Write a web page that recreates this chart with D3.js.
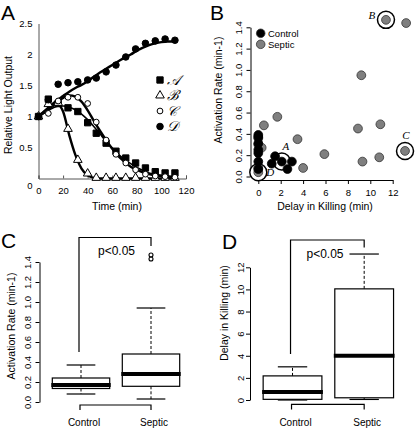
<!DOCTYPE html>
<html><head><meta charset="utf-8">
<script src="https://cdn.jsdelivr.net/npm/d3@7"></script>
<style>
html,body{margin:0;padding:0;background:#fff;}
svg{display:block;font-family:"Liberation Sans",Arial,sans-serif;}
</style></head>
<body><svg id="c" width="415" height="428"></svg>
<script>
// ---------- Panel A data ----------
const timeA   = [0,8,16,24,32,40,47,55,63,71,79,87,95,103,111];
const seriesA = [1.0,1.28,1.21,1.14,1.08,0.90,0.73,0.57,0.44,0.33,0.25,0.17,0.11,0.09,0.09];
const seriesB = [1.0,1.20,1.22,0.80,0.30,0.08,0.01,0.01,0.01,0.01,0.01,0.01,0.01,0.01,0.01];
const seriesC = [1.0,1.05,1.25,1.31,1.31,1.21,0.91,0.62,0.39,0.25,0.14,0.07,0.04,0.03,0.02];
const seriesD = [1.0,1.27,1.52,1.545,1.56,1.59,1.62,1.72,1.83,1.96,2.09,2.18,2.22,2.25,2.23];
const fitTime = [0,5,10,15,20,25,30,35,40,45,50,55,60,65,70,75,80,85,90,95,100,105,110];
const fitA = [1.0,1.06,1.12,1.16,1.17,1.15,1.11,1.04,0.95,0.84,0.72,0.60,0.49,0.39,0.31,0.24,0.18,0.13,0.09,0.07,0.05,0.04,0.03];
const fitB = [1.0,1.08,1.15,1.20,1.08,0.70,0.38,0.16,0.05,0.01,0,0,0,0,0,0,0,0,0,0,0,0,0];
const fitC = [1.0,1.07,1.15,1.23,1.30,1.34,1.32,1.24,1.10,0.93,0.77,0.62,0.48,0.36,0.27,0.19,0.14,0.10,0.07,0.05,0.04,0.03,0.02];
const fitD = [1.0,1.09,1.18,1.26,1.33,1.40,1.46,1.51,1.57,1.64,1.71,1.77,1.83,1.89,1.95,2.00,2.06,2.11,2.15,2.18,2.20,2.21,2.21];
const seriesNames = ["𝒜","ℬ","𝒞","𝒟"];
const ticksAx = [0,20,40,60,80,100,120];
const ticksAy = [0,0.5,1,1.5,2,2.5];

// ---------- Panel B data ----------
const controlDelay = [0,0,0,0,0,0,0,1.2,1.5,2.1,2.6,3.0];
const controlRate  = [0.39,0.37,0.31,0.25,0.22,0.14,0.07,0.12,0.19,0.14,0.07,0.14];
const septicDelay = [0,0,0.3,0.5,1.7,3.5,4.0,5.9,8.9,9.2,9.3,10.8,10.9,11.4,13.2,13.1,0,0];
const septicRate  = [0.36,0.30,0.27,0.48,0.56,0.35,0.08,0.21,0.45,0.95,0.14,0.18,0.49,1.47,1.44,0.24,0.08,0.04];
const markedLabels = ["A","B","C","D"];
const markedDelay  = [2.1,11.4,13.1,0];
const markedRate   = [0.14,1.47,0.24,0.04];
const ticksBx = [0,2,4,6,8,10,12];
const ticksBy = [0,0.2,0.4,0.6,0.8,1.0,1.2,1.4];

// ---------- Panels C, D data ----------
const groups = ["Control","Septic"];
const rateLow = [0.08,0.03], rateQ1 = [0.135,0.157], rateMed = [0.17,0.28], rateQ3 = [0.24,0.48], rateHigh = [0.37,0.94];
const rateOutliers = [[],[1.43,1.47]];
const delayLow = [0,0.05], delayQ1 = [0.06,0.2], delayMed = [0.72,4.0], delayQ3 = [2.18,10.05], delayHigh = [3.0,13.2];
const delayOutliers = [[],[]];
const pText = "p<0.05";
const ticksCy = [0,0.2,0.4,0.6,0.8,1.0,1.2,1.4];
const ticksDy = [0,2,4,6,8,10,12];

const svg = d3.select("#c");
const FONT = "'Liberation Sans',Arial,sans-serif";

function letter(t,x,y){svg.append("text").attr("x",x).attr("y",y).attr("font-size",21).attr("font-family",FONT).text(t);}
letter("A",1,20); letter("B",210,20); letter("C",1,248); letter("D",222,249);

// ================= Panel A =================
const xA = d3.scaleLinear([0,120],[38.5,186]);
const yA = d3.scaleLinear([0,2.5],[178.5,23.5]);
const gA = svg.append("g");
const axAx = gA.append("g").attr("transform",`translate(0,${yA(0)})`)
  .call(d3.axisBottom(xA).tickValues(ticksAx).tickSize(-3).tickPadding(9).tickFormat(d3.format("d")));
const axAy = gA.append("g").attr("transform",`translate(${xA(0)},0)`)
  .call(d3.axisLeft(yA).tickValues(ticksAy).tickSize(0).tickPadding(6).tickFormat(d=>String(d)));
[axAx,axAy].forEach(a=>{a.select(".domain").attr("stroke","#555");a.selectAll(".tick line").attr("stroke","#555");a.selectAll("text").attr("font-size",9.5).attr("font-family",FONT);});
axAy.selectAll(".tick").filter(d=>d===0).select("text").attr("dy","1.05em");
gA.append("text").attr("x",117).attr("y",210).attr("text-anchor","middle").attr("font-size",10.5).attr("font-family",FONT).text("Time (min)");
gA.append("text").attr("transform","translate(12,105) rotate(-90)").attr("text-anchor","middle").attr("font-size",10.5).attr("font-family",FONT).text("Relative Light Output");

const lineA = d3.line().x((d,i)=>xA(fitTime[i])).y(d=>yA(d)).curve(d3.curveMonotoneX);
[fitA,fitB,fitC,fitD].forEach((f,k)=>{
  gA.append("path").attr("d",lineA(f)).attr("fill","none").attr("stroke","#000").attr("stroke-width",k===0?1.6:2.4);
});
const sym = [d3.symbolSquare,d3.symbolTriangle,d3.symbolCircle,d3.symbolCircle];
const symSize = [40,32,26,34];
const symFill = ["#000","#fff","#fff","#000"];
function drawMarker(g,k,x,y){
  g.append("path").attr("d",d3.symbol(sym[k],symSize[k])()).attr("transform",`translate(${x},${y})`)
   .attr("fill",symFill[k]).attr("stroke","#000").attr("stroke-width",1);
}
[seriesA,seriesB,seriesC,seriesD].forEach((s,k)=>{
  s.forEach((v,i)=>drawMarker(gA,k,xA(timeA[i]),yA(v)));
});
// legend
seriesNames.forEach((n,k)=>{
  const ly = 80 + k*15.5;
  drawMarker(gA,k,160,ly);
  gA.append("text").attr("x",167).attr("y",ly).attr("dy","0.35em").attr("font-size",14)
    .attr("font-family","'DejaVu Serif','Liberation Serif',serif").attr("font-style","italic").text(n);
});

// ================= Panel B =================
const xB = d3.scaleLinear([0,12],[258.3,392.7]);
const yB = d3.scaleLinear([0,1.4],[176.5,27.3]);
const gB = svg.append("g");
const axBx = gB.append("g").attr("transform","translate(0,180)")
  .call(d3.axisBottom(xB).tickValues(ticksBx).tickSize(4).tickPadding(5).tickSizeOuter(0));
const axBy = gB.append("g").attr("transform","translate(250.5,0)")
  .call(d3.axisLeft(yB).tickValues(ticksBy).tickSize(4).tickSizeOuter(0).tickFormat(d3.format(".1f")));
[axBx,axBy].forEach(a=>{a.select(".domain").attr("stroke","#000");a.selectAll("text").attr("font-size",9.5).attr("font-family",FONT);});
axBy.selectAll(".tick text").attr("x",0).attr("y",-12).attr("dy",null).attr("dominant-baseline","central")
  .attr("text-anchor","middle").attr("transform","rotate(-90)");
gB.append("text").attr("x",325).attr("y",210).attr("text-anchor","middle").attr("font-size",10.5).attr("font-family",FONT).text("Delay in Killing (min)");
gB.append("text").attr("transform","translate(222,90) rotate(-90)").attr("text-anchor","middle").attr("font-size",10.5).attr("font-family",FONT).text("Activation Rate (min-1)");
// highlight rings
markedLabels.forEach((l,i)=>{
  gB.append("circle").attr("cx",xB(markedDelay[i])).attr("cy",yB(markedRate[i])).attr("r",8.5)
    .attr("fill","#fff").attr("stroke","#000").attr("stroke-width",1.5);
});
septicDelay.forEach((d,i)=>gB.append("circle").attr("cx",xB(d)).attr("cy",yB(septicRate[i])).attr("r",4.4)
  .attr("fill","#7f7f7f").attr("stroke","#333").attr("stroke-width",0.8));
controlDelay.forEach((d,i)=>gB.append("circle").attr("cx",xB(d)).attr("cy",yB(controlRate[i])).attr("r",4.4)
  .attr("fill","#000").attr("stroke","#000").attr("stroke-width",0.8));
const lblOff = [[4,-15],[-14,-5],[1,-16],[12,0]];
markedLabels.forEach((l,i)=>{
  gB.append("text").attr("x",xB(markedDelay[i])+lblOff[i][0]).attr("y",yB(markedRate[i])+lblOff[i][1])
    .attr("dy","0.35em").attr("text-anchor","middle").attr("font-size",11).attr("font-style","italic")
    .attr("font-family","'Liberation Serif','DejaVu Serif',serif").text(l);
});
// legend
[["Control","#000"],["Septic","#7f7f7f"]].forEach(([n,c],k)=>{
  const ly = 33.3 + k*11;
  gB.append("circle").attr("cx",260.7).attr("cy",ly).attr("r",4.3).attr("fill",c).attr("stroke","#333").attr("stroke-width",0.8);
  gB.append("text").attr("x",268).attr("y",ly).attr("dy","0.35em").attr("font-size",9.5).attr("font-family",FONT).text(n);
});

// ================= Box plots =================
function boxPanel(cfg){
  const {x,y,axisX,labelOffset,ticks,fmt,low,q1,med,q3,high,outl,title,titleX,titleY,bracketTop,bracketLeft,bracketRight,pX,pY,bottomBracket,labelX} = cfg;
  const g = svg.append("g");
  const ax = g.append("g").attr("transform",`translate(${axisX},0)`)
    .call(d3.axisLeft(y).tickValues(ticks).tickSize(4).tickSizeOuter(0).tickFormat(fmt));
  ax.select(".domain").attr("stroke","#000");
  ax.selectAll(".tick text").attr("font-size",9.5).attr("font-family",FONT).attr("x",0).attr("y",-labelOffset)
    .attr("dy",null).attr("dominant-baseline","central").attr("text-anchor","middle").attr("transform","rotate(-90)");
  g.append("text").attr("transform",`translate(${titleX},${titleY}) rotate(-90)`).attr("text-anchor","middle")
    .attr("font-size",10.5).attr("font-family",FONT).text(title);
  const hw = (x(1.41)-x(1));
  groups.forEach((gr,i)=>{
    const cx = x(i+1);
    g.append("line").attr("x1",cx).attr("x2",cx).attr("y1",y(q3[i])).attr("y2",y(high[i])).attr("stroke","#000").attr("stroke-dasharray","3,2");
    g.append("line").attr("x1",cx).attr("x2",cx).attr("y1",y(q1[i])).attr("y2",y(low[i])).attr("stroke","#000").attr("stroke-dasharray","3,2");
    g.append("line").attr("x1",cx-hw/2).attr("x2",cx+hw/2).attr("y1",y(high[i])).attr("y2",y(high[i])).attr("stroke","#000").attr("stroke-width",1.2);
    g.append("line").attr("x1",cx-hw/2).attr("x2",cx+hw/2).attr("y1",y(low[i])).attr("y2",y(low[i])).attr("stroke","#000").attr("stroke-width",1.2);
    g.append("rect").attr("x",cx-hw).attr("width",2*hw).attr("y",y(q3[i])).attr("height",y(q1[i])-y(q3[i]))
      .attr("fill","#fff").attr("stroke","#000").attr("stroke-width",1.2);
    g.append("line").attr("x1",cx-hw-1).attr("x2",cx+hw+1).attr("y1",y(med[i])).attr("y2",y(med[i])).attr("stroke","#000").attr("stroke-width",4);
    outl[i].forEach(o=>g.append("circle").attr("cx",cx).attr("cy",y(o)).attr("r",2).attr("fill","none").attr("stroke","#000").attr("stroke-width",1.1));
    g.append("text").attr("x",labelX(i)).attr("y",422).attr("dy","0.35em").attr("text-anchor","middle").attr("font-size",10).attr("font-family",FONT).text(gr);
  });
  g.append("path").attr("d",`M${x(1)-2},${y(bracketLeft)}V${y(bracketTop)}H${x(2)}V${y(bracketRight)}`)
    .attr("fill","none").attr("stroke","#000").attr("stroke-width",1.2);
  g.append("text").attr("x",pX).attr("y",y(pY)).attr("dy","0.35em").attr("text-anchor","middle").attr("font-size",12).attr("font-family",FONT).text(pText);
  g.append("path").attr("d",`M${x(1)-1},${y(bottomBracket[1])}V${y(bottomBracket[0])}H${x(2)}V${y(bottomBracket[1])}`)
    .attr("fill","none").attr("stroke","#000").attr("stroke-width",1.2);
}
const xC = d3.scaleLinear([0.5,2.5],[46,186]);
const yC = d3.scaleLinear([0,1.4],[402,262]);
boxPanel({x:xC,y:yC,axisX:39.5,labelOffset:12,ticks:ticksCy,fmt:d3.format(".1f"),
  low:rateLow,q1:rateQ1,med:rateMed,q3:rateQ3,high:rateHigh,outl:rateOutliers,
  title:"Activation Rate (min-1)",titleX:15,titleY:326,bracketTop:1.645,bracketLeft:0.5,bracketRight:1.56,
  pX:116.5,pY:1.51,bottomBracket:[-0.03,-0.08],labelX:i=>xC(i+1)+3});
const xD = d3.scaleLinear([0.5,2.5],[256.7,400]);
const yD = d3.scaleLinear([0,12],[400,267.3]);
boxPanel({x:xD,y:yD,axisX:250,labelOffset:10,ticks:ticksDy,fmt:d3.format("d"),
  low:delayLow,q1:delayQ1,med:delayMed,q3:delayQ3,high:delayHigh,outl:delayOutliers,
  title:"Delay in Killing (min)",titleX:228,titleY:313,bracketTop:14.47,bracketLeft:4.16,bracketRight:13.8,
  pX:325,pY:13.2,bottomBracket:[-0.4,-0.85],labelX:i=>xD(i+1)+3});
</script></body></html>
